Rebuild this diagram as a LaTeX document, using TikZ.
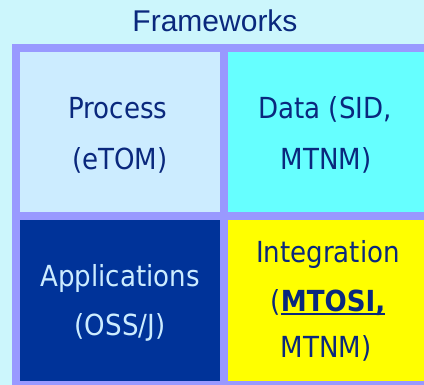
\documentclass[tikz,border=0pt]{standalone}
\usepackage{fontspec}
\setmainfont{Liberation Sans}
\newfontfamily\cellfont{DejaVu Sans Condensed}
\definecolor{bgcyan}{RGB}{204,246,252}
\definecolor{framepurple}{RGB}{153,153,255}
\definecolor{proccol}{RGB}{204,236,255}
\definecolor{datacol}{RGB}{102,255,255}
\definecolor{appcol}{RGB}{0,51,153}
\definecolor{intcol}{RGB}{255,255,0}
\definecolor{navytext}{RGB}{10,40,125}
\newcommand\myulbox[1]{\setbox0\hbox{#1}\rlap{\rule[-3.5pt]{\wd0}{2pt}}\box0}
\begin{document}
\begin{tikzpicture}[x=1pt,y=-1pt,
  cell/.style={draw=none},
  celltext/.style={anchor=base,inner sep=0pt,font=\cellfont\fontsize{29}{35}\selectfont,text=navytext},
  titletext/.style={anchor=base,inner sep=0pt,font=\fontsize{30}{36}\selectfont,text=navytext}]
\useasboundingbox (0,0) rectangle (424,385);
\fill[bgcyan] (0,0) rectangle (424,385);
\fill[framepurple] (12,44) rectangle (424,385);
\fill[proccol] (20,52) rectangle (220,212);
\fill[datacol] (228,52) rectangle (424,212);
\fill[appcol] (20,220) rectangle (220,381);
\fill[intcol] (228,220) rectangle (424,381);
\node[titletext] (title) at (215,32) {Frameworks};
\node[celltext] (proc1) at (118,119) {Process};
\node[celltext] (proc2) at (120,170) {(eTOM)};
\node[celltext] (data1) at (325,119) {Data (SID,};
\node[celltext] (data2) at (326,170) {MTNM)};
\node[celltext,text=proccol] (app1) at (120,287) {Applications};
\node[celltext,text=proccol] (app2) at (120,336) {(OSS/J)};
\node[celltext] (int1) at (328,263) {Integration};
\node[celltext] (int2) at (328,312) {(\myulbox{\bfseries MTOSI,}};
\node[celltext] (int3) at (326,358) {MTNM)};
\end{tikzpicture}
\end{document}
